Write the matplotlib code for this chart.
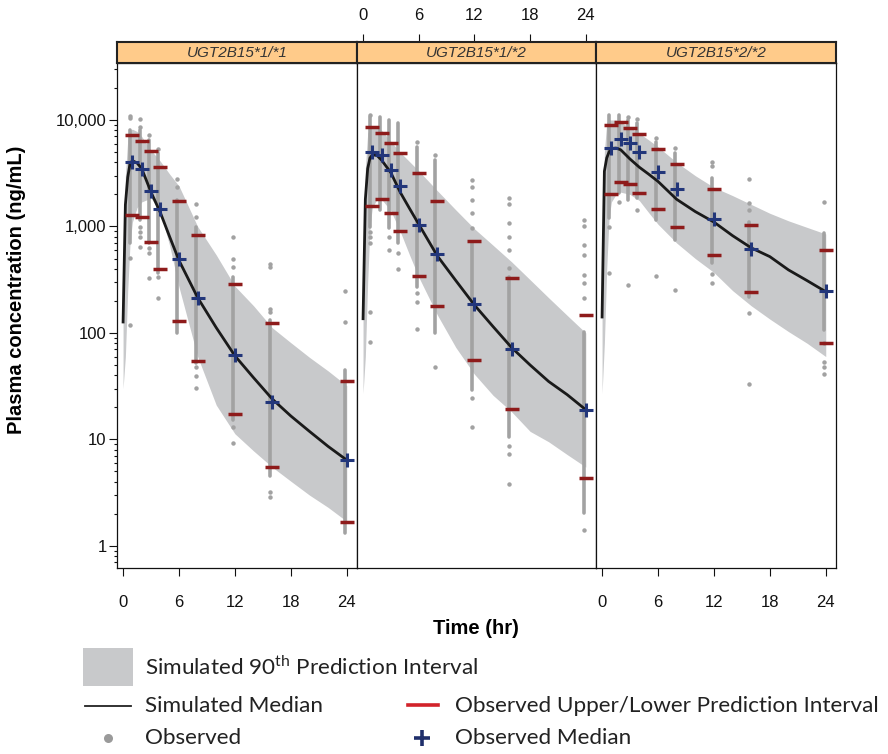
import matplotlib
matplotlib.use("Agg")
import matplotlib.pyplot as plt
from matplotlib.ticker import FixedLocator, NullFormatter, LogLocator, NullLocator
from matplotlib.patches import Rectangle

plt.rcParams['font.family'] = ['Liberation Sans', 'DejaVu Sans']
plt.rcParams['mathtext.fontset'] = 'custom'
plt.rcParams['mathtext.rm'] = 'Lato'

# ---- data ----
PANELS = ['UGT2B15*1/*1', 'UGT2B15*1/*2', 'UGT2B15*2/*2']

SIM_T = [0, 0.25, 0.5, 0.75, 1, 1.5, 2, 3, 4, 5, 6, 8, 10, 12, 14, 16, 18, 20, 22, 24]

MED_11 = [123, 1600, 2900, 3900, 4150, 3950, 3500, 2100, 1350, 800, 480, 215, 112, 61, 38, 24, 16.6, 11.9, 8.6, 6.4]
UP_11 = [400, 3000, 6500, 8000, 8200, 7800, 7000, 5200, 4100, 3100, 2400, 1000, 540, 275, 180, 112, 81, 59, 44, 32]
LO_11 = [30, 60, 250, 700, 1100, 1500, 1700, 1850, 1370, 660, 270, 60, 21, 11.3, 7.8, 5.5, 4.05, 3.0, 2.3, 1.7]

MED_12 = [132, 1800, 3500, 4400, 4700, 4650, 4200, 3200, 2100, 1480, 1050, 530, 310, 183, 115, 73, 50, 35, 26.3, 19]
UP_12 = [400, 3500, 7500, 8400, 8600, 8650, 8000, 6300, 4980, 4070, 3330, 2170, 1430, 952, 667, 466, 316, 214, 146, 100]
LO_12 = [27, 60, 300, 1000, 1500, 1800, 1800, 1400, 900, 543, 335, 148, 73, 41, 26, 18.2, 11.9, 9.5, 7.2, 5.5]

MED_22 = [137, 3300, 4400, 5000, 5400, 5450, 5250, 4300, 3600, 3100, 2650, 1800, 1380, 1100, 820, 630, 521, 391, 310, 244]
UP_22 = [400, 5000, 9500, 10000, 10000, 10000, 9500, 8500, 7500, 6500, 5600, 4000, 3000, 2330, 1950, 1610, 1330, 1130, 980, 850]
LO_22 = [27, 80, 400, 1200, 1700, 2000, 2100, 2000, 1750, 1350, 1050, 700, 500, 370, 250, 180, 135, 103, 80, 60]

OBS_T = [1, 2, 3, 4, 6, 8, 12, 16, 24]

OBS_MED_11 = [4010, 3440, 2150, 1450, 492, 215, 62, 22.5, 6.4]
OBS_UP_11 = [7180, 6360, 5120, 3620, 1720, 826, 290, 123, 35]
OBS_LO_11 = [1280, 1236, 721, 399, 130, 55, 17.2, 5.5, 1.66]

OBS_MED_12 = [4970, 4660, 3400, 2420, 1030, 548, 186, 71, 18.9]
OBS_UP_12 = [8530, 7600, 6040, 4870, 3150, 1730, 731, 326, 147]
OBS_LO_12 = [1556, 1820, 1330, 902, 345, 180, 55.7, 19.2, 4.3]

OBS_MED_22 = [5420, 6580, 6040, 4970, 3230, 2260, 1186, 615, 248]
OBS_UP_22 = [8980, 9510, 8410, 7390, 5380, 3840, 2230, 1040, 601]
OBS_LO_22 = [2020, 2640, 2520, 2050, 1460, 995, 536, 241, 80]

# dense runs of observed points (top / bottom of each column)
CORE_HI_11 = [8050, 8050, 6490, 4870, 1770, 995, 338, 132, 45]
CORE_LO_11 = [695, 1150, 695, 363, 99, 52, 15.2, 4.5, 1.31]
CORE_HI_12 = [10700, 10600, 10000, 9440, 5620, 4210, 700, 338, 103]
CORE_LO_12 = [995, 1430, 962, 695, 272, 99, 29.2, 10.6, 2.03]
CORE_HI_22 = [11100, 11100, 10000, 9300, 6260, 4870, 2830, 1110, 863]
CORE_LO_22 = [1195, 2050, 1770, 1840, 1150, 746, 451, 219, 107]

# scattered observed points outside the dense runs
OBS_PTS_11 = [[10900, 10400, 502, 120], [10200, 8650, 995, 894, 803, 647],
              [7230, 624, 560, 326], [5300, 338, 215], [2770, 2330],
              [1620, 1240, 48, 39, 30.7], [791, 492, 420, 13.2, 9.2],
              [441, 420, 167, 158, 3.2, 2.9], [249, 128]]
OBS_PTS_12 = [[11100, 894, 803, 695, 158, 83], [], [803, 601], [560, 396],
              [6260, 239, 197, 108], [4690, 48],
              [2740, 2370, 1770, 1330, 962, 24.7, 13.2],
              [1840, 1630, 1070, 803, 600, 405, 8.6, 7.3, 3.8],
              [1150, 1010, 670, 540, 351, 293, 212, 1.41]]
OBS_PTS_22 = [[982, 363], [1710], [10700, 282], [10200, 1430], [6730, 343],
              [5420, 253], [4060, 3700, 356, 297],
              [2790, 1650, 1430, 153, 33], [1680, 80, 53, 48, 41]]

SIM = [(MED_11, UP_11, LO_11), (MED_12, UP_12, LO_12), (MED_22, UP_22, LO_22)]
OBS = [(OBS_MED_11, OBS_UP_11, OBS_LO_11), (OBS_MED_12, OBS_UP_12, OBS_LO_12),
       (OBS_MED_22, OBS_UP_22, OBS_LO_22)]
CORES = [(CORE_HI_11, CORE_LO_11), (CORE_HI_12, CORE_LO_12), (CORE_HI_22, CORE_LO_22)]
PTS = [OBS_PTS_11, OBS_PTS_12, OBS_PTS_22]

X_TICKS = [0, 6, 12, 18, 24]
Y_TICKS = [1, 10, 100, 1000, 10000]
Y_LABELS = ['1', '10', '100', '1,000', '10,000']

# ---- style ----
BAND = '#C8C9CB'
DOT = '#A2A2A2'
RED = '#8E1B1B'
BLUE = '#22367A'
STRIP = '#FFCB8A'
DODGE = 0.22
TICKFONT = 'Liberation Sans'

W, H = 888, 754
fig = plt.figure(figsize=(W / 100, H / 100), dpi=100)

lefts = [117, 357, 596]
widths = [240, 239, 240]
top_px, bot_px = 63, 568

for i in range(3):
    ax = fig.add_axes([lefts[i] / W, 1 - bot_px / H, widths[i] / W, (bot_px - top_px) / H])
    st = fig.add_axes([lefts[i] / W, 1 - top_px / H, widths[i] / W, 21 / H])

    med, up, lo = SIM[i]
    ax.fill_between(SIM_T, lo, up, color=BAND, lw=0, zorder=1)

    hi_c, lo_c = CORES[i]
    xs = [t - DODGE for t in OBS_T]
    ax.vlines(xs, lo_c, hi_c, colors=DOT, lw=2.6, capstyle='round', zorder=2)
    for t, vals in zip(OBS_T, PTS[i]):
        ax.plot([t - DODGE] * len(vals), vals, 'o', ms=3.2, mew=0, color=DOT, zorder=2)

    ax.plot(SIM_T, med, color='#1A1A1A', lw=2.0, zorder=3, solid_capstyle='butt')

    om, ou, ol = OBS[i]
    ax.plot(OBS_T, ou, '_', ms=9.5, mew=2.5, color=RED, zorder=4)
    ax.plot(OBS_T, ol, '_', ms=9.5, mew=2.5, color=RED, zorder=4)
    ax.plot(OBS_T, om, '+', ms=10, mew=2.2, color=BLUE, zorder=5)

    ax.set_yscale('log')
    ax.set_xlim(-0.65, 25.1)
    ax.set_ylim(0.62, 34300)
    for sp in ax.spines.values():
        sp.set_linewidth(0.9)
        sp.set_color('#111111')

    ax.tick_params(which='both', direction='out', width=0.8, colors='#111111',
                   labelsize=12)
    ax.tick_params(which='major', length=5.5)
    ax.tick_params(which='minor', length=2)

    if i == 0:
        ax.yaxis.set_major_locator(FixedLocator(Y_TICKS))
        ax.set_yticklabels(Y_LABELS, family=TICKFONT)
        ax.yaxis.set_minor_locator(LogLocator(base=10, subs=range(2, 10)))
        ax.yaxis.set_minor_formatter(NullFormatter())
        ax.tick_params(axis='y', pad=2)
    else:
        ax.yaxis.set_major_locator(NullLocator())
        ax.yaxis.set_minor_locator(NullLocator())

    if i != 1:
        ax.set_xticks(X_TICKS)
        ax.set_xticklabels([str(v) for v in X_TICKS], family=TICKFONT)
        ax.tick_params(axis='x', pad=14)
    else:
        ax.set_xticks([])

    st.set_xlim(-0.65, 25.1)
    st.set_facecolor(STRIP)
    st.set_yticks([])
    for sp in st.spines.values():
        sp.set_linewidth(1.5)
        sp.set_color('#222222')
    st.text(0.5, 0.48, PANELS[i], transform=st.transAxes, ha='center', va='center',
            fontsize=11, style='italic', color='#333333', family=TICKFONT)
    if i == 1:
        st.xaxis.set_ticks_position('top')
        st.set_xticks(X_TICKS)
        st.set_xticklabels([str(v) for v in X_TICKS], family=TICKFONT)
        st.tick_params(axis='x', direction='out', length=5.5, width=0.8,
                       labelsize=12, pad=8, colors='#111111')
    else:
        st.set_xticks([])

fig.text(476 / W, 1 - 628 / H, 'Time (hr)', ha='center', va='center',
         fontsize=14.5, fontweight='bold', family=TICKFONT)
fig.text(17 / W, 1 - 290 / H, 'Plasma concentration (ng/mL)', ha='center',
         va='center', rotation=90, fontsize=14.5, fontweight='bold', family=TICKFONT)

# ---- legend (pixel coordinates) ----
lg = fig.add_axes([0, 0, 1, 1], zorder=-1)
lg.set_xlim(0, W)
lg.set_ylim(H, 0)
lg.axis('off')
LEG_FONT = dict(fontsize=16.2, family='Lato', va='center', color='#222222')
lg.add_patch(Rectangle((83, 648), 50, 38, color=BAND, lw=0))
lg.text(145, 667, 'Simulated 90$^{\\mathrm{th}}$ Prediction Interval', **LEG_FONT)
lg.plot([85, 131], [706, 706], color='#222222', lw=1.3)
lg.text(145, 706, 'Simulated Median', **LEG_FONT)
lg.plot([108], [738], 'o', ms=6.5, mew=0, color='#9A9A9A')
lg.text(145, 738, 'Observed', **LEG_FONT)
lg.plot([408, 438], [705, 705], color='#D2232A', lw=2.6)
lg.text(455, 706, 'Observed Upper/Lower Prediction Interval', **LEG_FONT)
lg.plot([422], [738], '+', ms=11, mew=2.6, color='#1F2F6B')
lg.text(455, 738, 'Observed Median', **LEG_FONT)

fig.savefig('out.png', dpi=100)
